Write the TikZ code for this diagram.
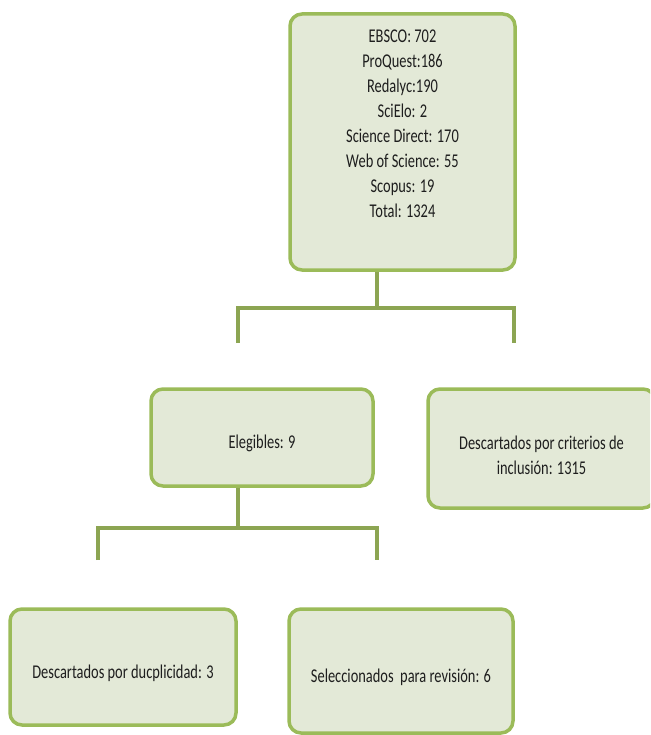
\documentclass[tikz,border=0pt]{standalone}
\usepackage{fontspec}
\setmainfont{Carlito}[FakeStretch=0.74]
\usetikzlibrary{positioning}
\definecolor{boxfill}{HTML}{E3E9D7}
\definecolor{boxline}{HTML}{9BBB59}
\definecolor{linkline}{HTML}{8CA552}
\definecolor{boxtext}{HTML}{1E1E1E}

\begin{document}
\begin{tikzpicture}[x=1pt,y=-1pt,
every node/.style={draw=boxline,fill=boxfill,line width=3.5pt,rounded corners=12pt,
align=center,font=\fontsize{19.5}{25}\selectfont,text=boxtext,inner sep=0,text height=26pt},
link/.style={draw=linkline,line width=3.5pt}]
\useasboundingbox (0,0) rectangle (650,735);
\clip (0,0) rectangle (650,735);

\node[minimum width=225,minimum height=256,text height=,text depth=37pt] (bases) at (402.5,142)
	{EBSCO: 702\\ProQuest:186\\Redalyc:190\\SciElo: 2\\Science Direct: 170\\
	 Web of Science: 55\\Scopus: 19\\Total: 1324};
\node[minimum width=222,minimum height=97] (eleg) at (262,437.5) {Elegibles: 9};
\node[minimum width=227,minimum height=119,text height=53pt] (crit) at (541.5,448.5)
	{Descartados por criterios de\\inclusión: 1315};
\node[minimum width=226,minimum height=116] (dupl) at (123,667)
	{Descartados por ducplicidad: 3};
\node[minimum width=224,minimum height=124] (selec) at (401,671)
	{Seleccionados~ para revisión: 6};

% free ends of the brackets
\coordinate (j1) at (377,308);
\coordinate (t1l) at (238,343);
\coordinate (t1r) at (514,343);
\coordinate (j2) at (238,528);
\coordinate (t2l) at (98,560);
\coordinate (t2r) at (377,560);

\draw[link] ([xshift=-25.5]bases.south) -- (j1);
\draw[link] (t1l) |- (j1) -| (t1r);
\draw[link] ([xshift=-24]eleg.south) -- (j2);
\draw[link] (t2l) |- (j2) -| (t2r);

\end{tikzpicture}
\end{document}
